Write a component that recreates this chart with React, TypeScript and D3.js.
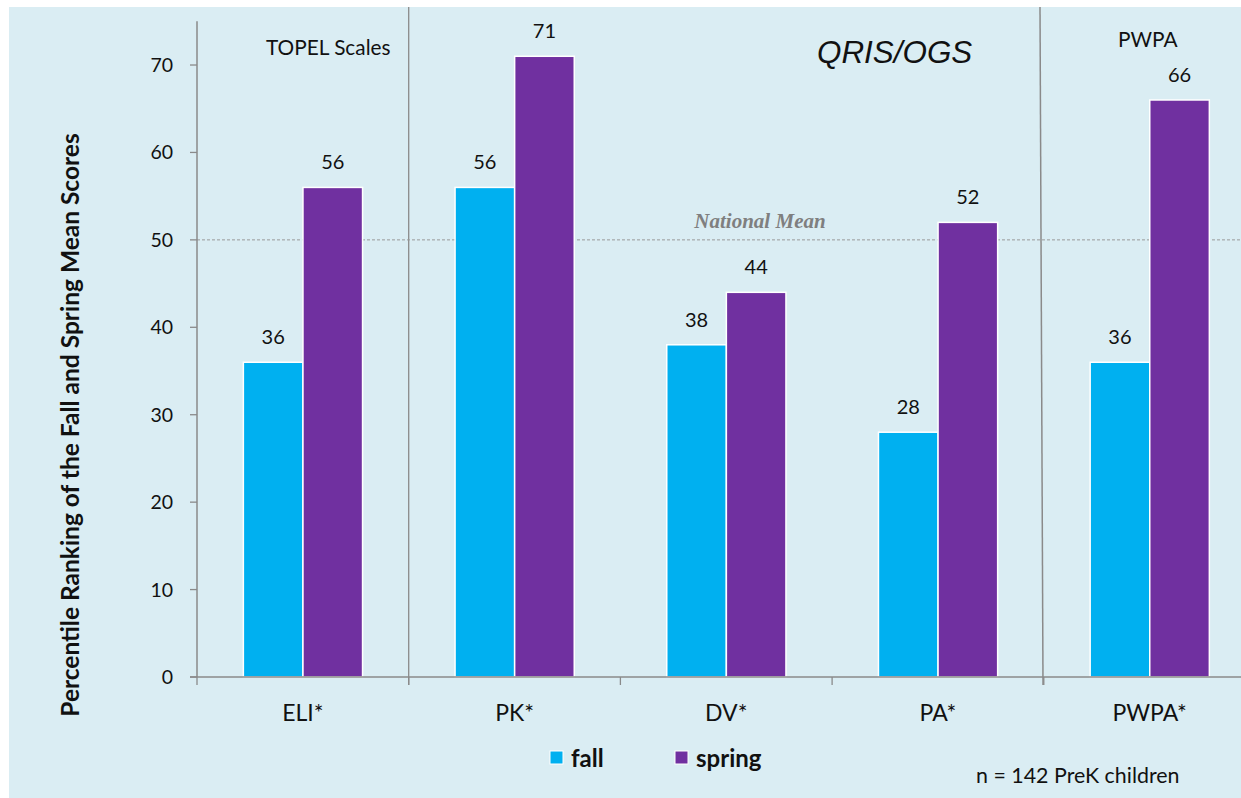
import React from "react";
import * as d3 from "d3";

const categories = ["ELI*", "PK*", "DV*", "PA*", "PWPA*"];
const series = ["fall", "spring"];
const fallValues = [36, 56, 38, 28, 36];
const springValues = [56, 71, 44, 52, 66];
const yTicks = [0, 10, 20, 30, 40, 50, 60, 70];
const nationalMean = 50;
const colors: Record<string, string> = { fall: "#00B0F0", spring: "#7030A0" };

const W = 1241;
const H = 798;
const font = "Lato, 'Open Sans', sans-serif";

export default function App() {
  const x = d3.scaleBand<string>().domain(categories).range([197, 1255.5]).padding(0);
  const bw = x.bandwidth();
  const xs = d3.scaleBand<string>().domain(series).range([bw * 0.219, bw * 0.782]).padding(0);
  const y = d3.scaleLinear().domain([0, 75]).range([677, 21.3]);
  const values: Record<string, number[]> = { fall: fallValues, spring: springValues };

  return (
    <svg width={W} height={H} style={{ position: "absolute", left: 0, top: 0, background: "#fff" }}>
      <rect x={9} y={7} width={W - 9} height={H - 7} fill="#DAEDF3" />
      {/* separators */}
      <line x1={x("PK*")!} x2={x("PK*")!} y1={7} y2={y(0) + 8} stroke="#8a8a8a" strokeWidth={1.3} />
      <line x1={1040} x2={1043} y1={7} y2={y(0) + 8} stroke="#8a8a8a" strokeWidth={1.5} />
      {/* national mean line */}
      <line x1={197} x2={W} y1={y(nationalMean)} y2={y(nationalMean)} stroke="#9a9a9a" strokeWidth={1} strokeDasharray="3,2" />
      <text x={760} y={228} textAnchor="middle" fontFamily="'Liberation Serif', serif" fontStyle="italic" fontWeight="bold" fontSize={21} fill="#7f7f7f">National Mean</text>
      {/* bars */}
      {categories.map((c, i) =>
        series.map((s) => {
          const v = values[s][i];
          const bx = x(c)! + xs(s)!;
          return (
            <g key={c + s}>
              <rect x={bx} y={y(v)} width={xs.bandwidth()} height={y(0) - y(v)} fill={colors[s]} stroke="#ffffff" strokeWidth={1.5} />
              <text x={bx + xs.bandwidth() / 2} y={y(v) - 18} textAnchor="middle" fontFamily={font} fontSize={20} fill="#111">{v}</text>
            </g>
          );
        })
      )}
      {/* y axis */}
      <line x1={197} x2={197} y1={y(75)} y2={y(0)} stroke="#8a8a8a" strokeWidth={1.5} />
      {yTicks.map((t) => (
        <g key={t}>
          <line x1={190} x2={197} y1={y(t)} y2={y(t)} stroke="#8a8a8a" strokeWidth={1.3} />
          <text x={173} y={y(t) + 7} textAnchor="end" fontFamily={font} fontSize={19.5} fill="#111">{t}</text>
        </g>
      ))}
      {/* x axis */}
      <line x1={190} x2={W} y1={y(0)} y2={y(0)} stroke="#8a8a8a" strokeWidth={1.5} />
      {categories.map((c) => (
        <line key={"t" + c} x1={x(c)!} x2={x(c)!} y1={y(0)} y2={y(0) + 8} stroke="#8a8a8a" strokeWidth={1.3} />
      ))}
      {categories.map((c) => (
        <text key={"l" + c} x={x(c)! + bw / 2} y={721} textAnchor="middle" fontFamily={font} fontSize={23} fill="#111">{c}</text>
      ))}
      {/* y label */}
      <text transform="translate(79,425) rotate(-90)" textAnchor="middle" fontFamily={font} fontWeight="bold" fontSize={24.5} fill="#111">Percentile Ranking of the Fall and Spring Mean Scores</text>
      {/* annotations */}
      <text x={266} y={55} fontFamily={font} fontSize={20.8} fill="#111">TOPEL Scales</text>
      <text x={817} y={63} fontFamily="'Liberation Sans', Arial, sans-serif" fontStyle="italic" fontSize={31.4} fill="#111">QRIS/OGS</text>
      <text x={1118} y={47} fontFamily={font} fontSize={20.8} fill="#111">PWPA</text>
      {/* legend */}
      <rect x={550} y={751} width={13} height={13} fill={colors.fall} stroke="#fff" strokeWidth={1} />
      <text x={571} y={767} fontFamily={font} fontWeight="bold" fontSize={24} fill="#111">fall</text>
      <rect x={675} y={751} width={13} height={13} fill={colors.spring} stroke="#fff" strokeWidth={1} />
      <text x={696} y={767} fontFamily={font} fontWeight="bold" fontSize={24} fill="#111">spring</text>
      <text x={976} y={783} fontFamily={font} fontSize={21.4} fill="#111">n = 142 PreK children</text>
    </svg>
  );
}
